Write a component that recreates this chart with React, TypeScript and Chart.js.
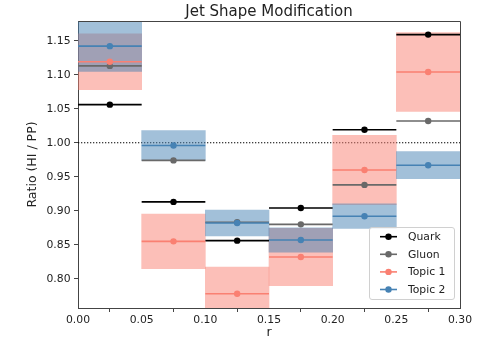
import React, { useEffect, useRef } from "react";
import { Chart, registerables } from "chart.js";

Chart.register(...registerables);

// ---- data ----
const binEdges = [0, 0.05, 0.1, 0.15, 0.2, 0.25, 0.3];
const seriesNames = ["Quark", "Gluon", "Topic 1", "Topic 2"];
const quark = [1.056, 0.913, 0.856, 0.904, 1.019, 1.159];
const gluon = [1.113, 0.974, 0.883, 0.88, 0.938, 1.032];
const topic1 = [1.119, 0.855, 0.778, 0.832, 0.96, 1.104];
const topic1Err = [0.041, 0.04, 0.039, 0.042, 0.051, 0.058];
const topic2 = [1.142, 0.996, 0.882, 0.857, 0.892, 0.967];
const topic2Err = [0.037, 0.022, 0.019, 0.018, 0.018, 0.02];
const xTicks = [0, 0.05, 0.1, 0.15, 0.2, 0.25, 0.3];
const yTicks = [0.8, 0.85, 0.9, 0.95, 1.0, 1.05, 1.1, 1.15];
const refValue = 1.0;
const titleText = "Jet Shape Modification";
const xLabel = "r";
const yLabel = "Ratio (HI / PP)";

// ---- styles ----
const lineColors = ["#000000", "#696969", "#fa8072", "#4682b4"];
const bandColors = ["rgba(250,128,114,0.5)", "rgba(70,130,180,0.5)"];
const FONT = '"DejaVu Sans", sans-serif';
const TEXT = "#222";

function segments(vals: number[]) {
  const pts: any[] = [];
  vals.forEach((v, i) => {
    const x0 = binEdges[i];
    const x1 = binEdges[i + 1];
    pts.push({ x: x0, y: v, m: false });
    pts.push({ x: (x0 + x1) / 2, y: v, m: true });
    pts.push({ x: x1, y: v, m: false });
    pts.push({ x: x1, y: null, m: false });
  });
  return pts;
}

function band(vals: number[], errs: number[]) {
  return vals.map((v, i) => ({
    x: (binEdges[i] + binEdges[i + 1]) / 2,
    y: [v - errs[i], v + errs[i]],
  }));
}

const decorPlugin = {
  id: "decor",
  afterDraw(chart: any) {
    const { ctx, chartArea } = chart;
    const { left, right, top, bottom } = chartArea;
    ctx.save();
    // top/right spines
    ctx.strokeStyle = "#444";
    ctx.lineWidth = 1;
    ctx.beginPath();
    ctx.moveTo(Math.round(left) + 0.5, Math.round(top) + 0.5);
    ctx.lineTo(Math.round(right) + 0.5, Math.round(top) + 0.5);
    ctx.lineTo(Math.round(right) + 0.5, Math.round(bottom) + 0.5);
    ctx.stroke();
    // title
    ctx.fillStyle = TEXT;
    ctx.font = `15px ${FONT}`;
    ctx.textAlign = "center";
    ctx.textBaseline = "middle";
    ctx.fillText(titleText, (left + right) / 2, 12);
    // legend
    const w = 85;
    const h = 72;
    const lx = right - 6 - w;
    const ly = bottom - 9 - h;
    ctx.fillStyle = "rgba(255,255,255,0.8)";
    ctx.strokeStyle = "#d0d0d0";
    ctx.lineWidth = 1;
    ctx.beginPath();
    const r = 2.5;
    const bx = Math.round(lx) + 0.5;
    const by = Math.round(ly) + 0.5;
    ctx.moveTo(bx + r, by);
    ctx.arcTo(bx + w, by, bx + w, by + h, r);
    ctx.arcTo(bx + w, by + h, bx, by + h, r);
    ctx.arcTo(bx, by + h, bx, by, r);
    ctx.arcTo(bx, by, bx + w, by, r);
    ctx.closePath();
    ctx.fill();
    ctx.stroke();
    ctx.font = `10.8px ${FONT}`;
    ctx.textAlign = "left";
    seriesNames.forEach((name, i) => {
      const ry = ly + 9.7 + i * 17.6;
      ctx.strokeStyle = lineColors[i];
      ctx.lineWidth = 1.6;
      ctx.beginPath();
      ctx.moveTo(lx + 11, ry);
      ctx.lineTo(lx + 28, ry);
      ctx.stroke();
      ctx.fillStyle = lineColors[i];
      ctx.beginPath();
      ctx.arc(lx + 19.5, ry, 3.2, 0, Math.PI * 2);
      ctx.fill();
      ctx.fillStyle = TEXT;
      ctx.fillText(name, lx + 39, ry + 0.5);
    });
    ctx.restore();
  },
};

export default function App() {
  const ref = useRef<HTMLCanvasElement | null>(null);
  useEffect(() => {
    const canvas = ref.current;
    if (!canvas) return;
    const lineSets = [quark, gluon, topic1, topic2].map((vals, i) => ({
      type: "line",
      label: seriesNames[i],
      data: segments(vals),
      borderColor: lineColors[i],
      backgroundColor: lineColors[i],
      borderWidth: 1.6,
      pointRadius: (c: any) => (c.raw && c.raw.m ? 3.2 : 0),
      pointHoverRadius: 0,
      pointBorderWidth: 0,
      spanGaps: false,
      fill: false,
      order: 4 - i,
    }));
    const chart = new Chart(canvas, {
      type: "line",
      data: {
        datasets: [
          {
            type: "line",
            label: "ref",
            data: [
              { x: binEdges[0], y: refValue },
              { x: binEdges[binEdges.length - 1], y: refValue },
            ],
            borderColor: "#000",
            borderWidth: 1.1,
            borderDash: [1.3, 1.7],
            pointRadius: 0,
            fill: false,
            order: 30,
          },
          {
            type: "bar",
            label: "Topic 1 band",
            data: band(topic1, topic1Err),
            backgroundColor: bandColors[0],
            borderWidth: 0,
            barPercentage: 1,
            categoryPercentage: 1,
            grouped: false,
            order: 21,
          },
          {
            type: "bar",
            label: "Topic 2 band",
            data: band(topic2, topic2Err),
            backgroundColor: bandColors[1],
            borderWidth: 0,
            barPercentage: 1,
            categoryPercentage: 1,
            grouped: false,
            order: 20,
          },
          ...lineSets,
        ] as any,
      },
      options: {
        animation: false,
        responsive: false,
        events: [],
        layout: { padding: { top: 21, right: 35, left: 0, bottom: 0 } },
        plugins: {
          legend: { display: false },
          tooltip: { enabled: false },
          title: { display: false },
        },
        scales: {
          x: {
            type: "linear",
            min: binEdges[0],
            max: binEdges[binEdges.length - 1],
            offset: false,
            afterBuildTicks: (s: any) => {
              s.ticks = xTicks.map((v) => ({ value: v }));
            },
            afterFit: (s: any) => {
              s.height = 34;
            },
            ticks: {
              callback: (v: any) => Number(v).toFixed(2),
              font: { family: FONT, size: 10.8 },
              color: TEXT,
              padding: 2,
              maxRotation: 0,
              autoSkip: false,
            },
            grid: {
              display: true,
              drawOnChartArea: false,
              drawTicks: true,
              tickLength: 4,
              color: "#444",
            },
            border: { display: true, color: "#444", width: 1 },
            title: {
              display: true,
              text: xLabel,
              font: { family: FONT, size: 12.5 },
              color: TEXT,
              padding: { top: 0, bottom: 1.5 },
            },
          },
          y: {
            type: "linear",
            min: 0.757,
            max: 1.179,
            afterBuildTicks: (s: any) => {
              s.ticks = yTicks.map((v) => ({ value: v }));
            },
            afterFit: (s: any) => {
              s.width = 78;
            },
            ticks: {
              callback: (v: any) => Number(v).toFixed(2),
              font: { family: FONT, size: 10.8 },
              color: TEXT,
              padding: 3.5,
              autoSkip: false,
            },
            grid: {
              display: true,
              drawOnChartArea: false,
              drawTicks: true,
              tickLength: 4,
              color: "#444",
            },
            border: { display: true, color: "#444", width: 1 },
            title: {
              display: true,
              text: yLabel,
              font: { family: FONT, size: 12.5 },
              color: TEXT,
              padding: { top: 25.5, bottom: 0 },
            },
          },
        },
      } as any,
      plugins: [decorPlugin],
    });
    return () => chart.destroy();
  }, []);
  return (
    <div style={{ position: "absolute", left: 0, top: 0, width: 495, height: 342, background: "#fff" }}>
      <canvas ref={ref} width={495} height={342} style={{ width: 495, height: 342 }} />
    </div>
  );
}
